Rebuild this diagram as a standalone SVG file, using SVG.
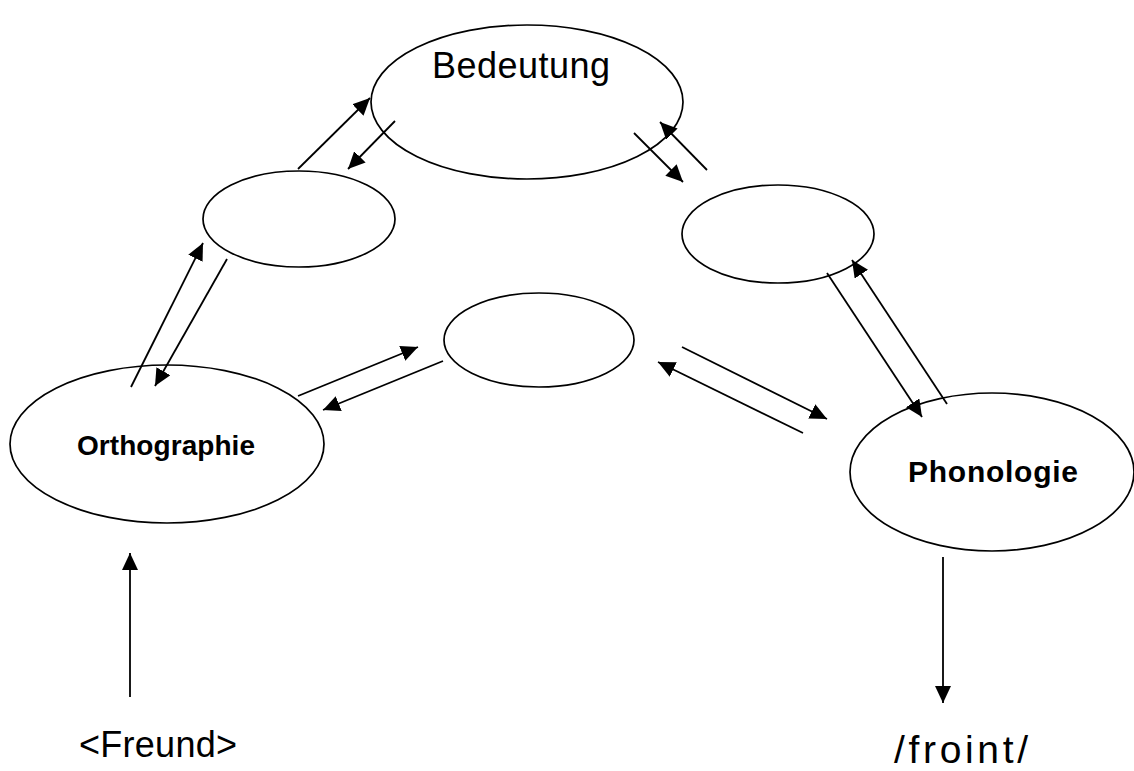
<svg xmlns="http://www.w3.org/2000/svg" width="1134" height="771" viewBox="0 0 1134 771">
<style>
.n{fill:#fff;stroke:#000;stroke-width:1.7}
.c line{stroke:#000;stroke-width:1.8;marker-end:url(#ah)}
text{font-family:"Liberation Sans",Arial,sans-serif;fill:#000}
.b{font-weight:bold}
</style>
<defs>
<marker id="ah" markerUnits="userSpaceOnUse" markerWidth="18" markerHeight="16" refX="17" refY="8" orient="auto">
<path d="M0,0 L17,8 L0,16 Z" fill="#000"/>
</marker>
</defs>
<g id="bedeutung"><ellipse class="n" cx="527" cy="102" rx="156" ry="77"/><text x="521" y="78" font-size="36" text-anchor="middle" textLength="178">Bedeutung</text></g>
<g id="leftSmall"><ellipse class="n" cx="299" cy="219" rx="96" ry="48"/></g>
<g id="rightSmall"><ellipse class="n" cx="778" cy="234" rx="96" ry="49"/></g>
<g id="middle"><ellipse class="n" cx="539" cy="340" rx="95" ry="47"/></g>
<g id="orthographie"><ellipse class="n" cx="167" cy="444" rx="157" ry="79"/><text class="b" x="166" y="455" font-size="28" text-anchor="middle" textLength="178">Orthographie</text></g>
<g id="phonologie"><ellipse class="n" cx="992" cy="472" rx="142" ry="79"/><text class="b" x="993" y="482" font-size="30" text-anchor="middle" textLength="170">Phonologie</text></g>
<g id="freund"><text x="158" y="757" font-size="36" text-anchor="middle" textLength="158">&lt;Freund&gt;</text></g>
<g id="froint"><text x="961" y="763" font-size="39" text-anchor="middle" textLength="134">/froint/</text></g>
<g class="c" id="connectors">
<line x1="298" y1="169" x2="370" y2="98"/>
<line x1="395" y1="121" x2="348" y2="169"/>
<line x1="707" y1="170" x2="660" y2="122"/>
<line x1="634" y1="133" x2="683" y2="182"/>
<line x1="131" y1="387" x2="203" y2="243"/>
<line x1="227" y1="259" x2="155" y2="386"/>
<line x1="298" y1="396" x2="418" y2="347"/>
<line x1="443" y1="361" x2="323" y2="410"/>
<line x1="682" y1="347" x2="827" y2="419"/>
<line x1="803" y1="433" x2="658" y2="362"/>
<line x1="827" y1="273" x2="922" y2="417"/>
<line x1="947" y1="404" x2="852" y2="260"/>
<line x1="130" y1="697" x2="130" y2="553"/>
<line x1="943" y1="557" x2="943" y2="703"/>
</g>
</svg>
